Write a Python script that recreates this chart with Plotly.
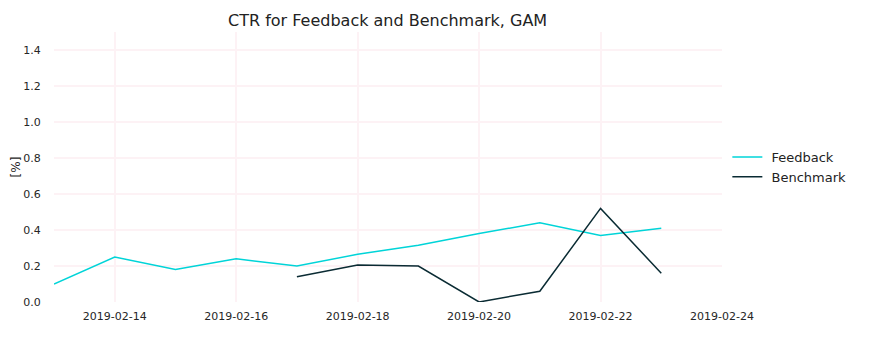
import plotly.graph_objects as go

feedback_dates = ["2019-02-13", "2019-02-14", "2019-02-15", "2019-02-16", "2019-02-17",
                  "2019-02-18", "2019-02-19", "2019-02-20", "2019-02-21", "2019-02-22", "2019-02-23"]
feedback_ctr = [0.10, 0.25, 0.18, 0.24, 0.20, 0.265, 0.315, 0.38, 0.44, 0.37, 0.41]

benchmark_dates = ["2019-02-17", "2019-02-18", "2019-02-19", "2019-02-20", "2019-02-21",
                   "2019-02-22", "2019-02-23"]
benchmark_ctr = [0.14, 0.205, 0.20, 0.0, 0.06, 0.52, 0.16]

y_ticks = [0.0, 0.2, 0.4, 0.6, 0.8, 1.0, 1.2, 1.4]
x_ticks = ["2019-02-14", "2019-02-16", "2019-02-18", "2019-02-20", "2019-02-22", "2019-02-24"]

fig = go.Figure()
fig.add_trace(go.Scatter(x=feedback_dates, y=feedback_ctr, mode="lines", name="\u00a0Feedback",
                         line=dict(color="#00d4d8", width=1.5)))
fig.add_trace(go.Scatter(x=benchmark_dates, y=benchmark_ctr, mode="lines", name="\u00a0Benchmark",
                         line=dict(color="#0a2b33", width=1.5)))

font = "DejaVu Sans, Verdana, sans-serif"
fig.update_layout(
    width=889, height=337,
    margin=dict(l=54, r=167, t=32, b=35),
    paper_bgcolor="white", plot_bgcolor="white",
    font=dict(family=font, size=11, color="#262626"),
    title=dict(text="CTR for Feedback and Benchmark, GAM", x=0.436, xanchor="center",
               y=0.94, yanchor="middle", font=dict(size=16, color="#222222")),
    legend=dict(x=1.008, y=0.5, xanchor="left", yanchor="middle",
                font=dict(size=13, color="#222222"), bgcolor="rgba(0,0,0,0)"),
    showlegend=True,
)
fig.update_xaxes(type="date", range=["2019-02-13", "2019-02-24"], tickvals=x_ticks,
                 ticktext=x_ticks, showgrid=True, gridcolor="#fdf2f5", gridwidth=2,
                 zeroline=False, showline=False, ticks="", ticklabelstandoff=6,
                 tickfont=dict(size=11, color="#262626"))
fig.update_yaxes(range=[0, 1.5], tickvals=y_ticks, ticktext=[f"{v:.1f}" for v in y_ticks],
                 showgrid=True, gridcolor="#fdf2f5", gridwidth=2, zeroline=False,
                 showline=False, ticks="outside", ticklen=10, tickcolor="rgba(0,0,0,0)",
                 tickfont=dict(size=11, color="#262626"),
                 title=dict(text="[%]", font=dict(size=12, color="#262626"), standoff=0))

fig.write_html("out.html")
